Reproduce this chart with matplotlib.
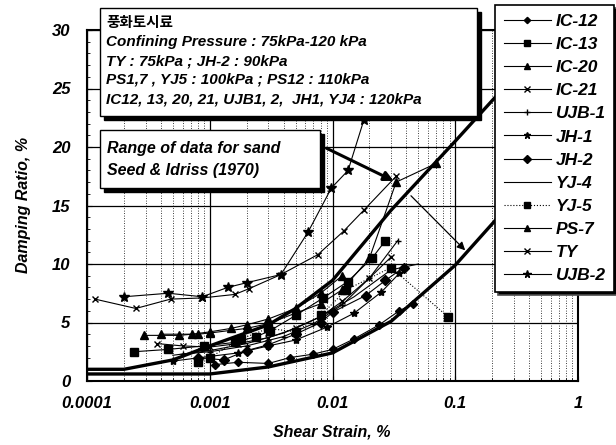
import matplotlib
matplotlib.use("Agg")
import matplotlib.pyplot as plt
from matplotlib.patches import Rectangle
from matplotlib.ticker import FixedLocator, NullFormatter, LogLocator

plt.rcParams['font.family'] = ['Liberation Sans', 'Noto Sans CJK KR']
plt.rcParams['font.weight'] = 'bold'
plt.rcParams['font.style'] = 'italic'

# Seed & Idriss (1970) range for sand
upper_x = [0.0001, 0.0002, 0.0005, 0.001, 0.003, 0.005, 0.01, 0.03, 0.1, 0.3, 1]
upper_y = [1.0, 1.0, 1.8, 3.0, 4.8, 6.2, 8.6, 14.6, 20.5, 26.0, 29.0]
lower_x = [0.0001, 0.001, 0.003, 0.01, 0.03, 0.1, 0.3, 1]
lower_y = [0.6, 0.6, 1.2, 2.4, 5.1, 9.9, 15.5, 21.0]

names = ["IC-12", "IC-13", "IC-20", "IC-21", "UJB-1", "JH-1",
         "JH-2", "YJ-4", "YJ-5", "PS-7", "TY", "UJB-2"]
strain = [
    [0.0011, 0.0017, 0.003, 0.0045, 0.007, 0.01, 0.015, 0.024, 0.035, 0.045],
    [0.00024, 0.00046, 0.0009, 0.0016, 0.0024, 0.0031, 0.005, 0.0084, 0.0133, 0.021, 0.027],
    [0.00029, 0.00056, 0.00072, 0.001, 0.0015, 0.002, 0.003, 0.005, 0.008, 0.012],
    [0.00037, 0.0006, 0.001, 0.0017, 0.003, 0.005, 0.008, 0.012, 0.02, 0.03],
    [0.0006, 0.001, 0.002, 0.004, 0.007, 0.012, 0.02, 0.034],
    [0.0005, 0.001, 0.0017, 0.003, 0.005, 0.009, 0.015, 0.025, 0.035],
    [0.0008, 0.0013, 0.002, 0.003, 0.005, 0.008, 0.0101, 0.0186, 0.027, 0.038],
    [0.0005, 0.001, 0.002, 0.004, 0.008, 0.015, 0.03, 0.05],
    [0.0008, 0.001, 0.0018, 0.003, 0.005, 0.008, 0.013, 0.03, 0.087],
    [0.0004, 0.0008, 0.001, 0.002, 0.003, 0.005, 0.008, 0.012, 0.02, 0.033, 0.07],
    [0.000116, 0.00025, 0.00048, 0.00087, 0.0016, 0.0021, 0.0038, 0.0076, 0.0123, 0.018, 0.033],
    [0.0002, 0.00046, 0.00087, 0.0014, 0.002, 0.0038, 0.0063, 0.0098, 0.0134, 0.018, 0.021],
]
damping = [
    [1.4, 1.6, 1.5, 2.0, 2.3, 2.7, 3.6, 4.8, 6.0, 6.6],
    [2.5, 2.7, 3.0, 3.3, 3.8, 4.3, 5.6, 7.1, 8.5, 10.5, 12.0],
    [3.9, 3.9, 4.0, 4.2, 4.5, 4.8, 5.3, 6.2, 7.5, 9.0],
    [3.2, 3.0, 2.9, 3.2, 3.7, 4.5, 5.5, 6.8, 8.8, 10.6],
    [2.3, 2.5, 3.0, 3.8, 4.9, 6.5, 8.8, 12.0],
    [1.7, 2.1, 2.4, 3.0, 3.5, 4.6, 5.8, 7.6, 9.2],
    [2.0, 1.8, 2.6, 3.1, 4.0, 5.0, 5.9, 7.3, 8.6, 9.7],
    [2.2, 2.6, 3.2, 4.1, 5.5, 7.2, 9.5, 10.0],
    [1.6, 2.0, 3.6, 4.5, 4.2, 5.6, 7.8, 9.7, 5.5],
    [4.0, 4.0, 4.1, 4.5, 4.9, 5.8, 6.6, 7.8, 10.5, 17.0, 18.6],
    [7.0, 6.2, 7.0, 7.1, 7.4, 7.9, 9.1, 10.8, 12.8, 14.6, 17.5],
    [7.2, 7.5, 7.2, 8.0, 8.4, 9.1, 12.7, 16.5, 18.0, 22.3, 27.0],
]
markers = ["D", "s", "^", "x", "+", "*", "D", "", "s", "^", "x", "*"]
sizes = [4, 6, 6, 5, 5, 6, 5, 0, 6, 6, 5, 7]
styles = ["-", "-", "-", "-", "-", "-", "-", "-", ":", "-", "-", "-"]

fig = plt.figure(figsize=(6.16, 4.45), dpi=100)
ax = fig.add_axes([87 / 616, 64 / 445, 491 / 616, 351 / 445])

ax.plot(upper_x, upper_y, color="black", lw=2.4, zorder=3)
ax.plot(lower_x, lower_y, color="black", lw=2.4, zorder=3)

for n, sx, dy, m, s, ls in zip(names, strain, damping, markers, sizes, styles):
    ax.plot(sx, dy, color="black", lw=0.8, ls=ls, marker=m, ms=s,
            mew=1.0, mfc="black", mec="black", label=n, zorder=4)

ax.set_xscale("log")
ax.set_xlim(0.0001, 1)
ax.set_ylim(0, 30)
ax.xaxis.set_major_locator(FixedLocator([0.0001, 0.001, 0.01, 0.1, 1]))
ax.set_xticklabels(["0.0001", "0.001", "0.01", "0.1", "1"])
ax.xaxis.set_minor_locator(LogLocator(base=10, subs=range(2, 10)))
ax.xaxis.set_minor_formatter(NullFormatter())
ax.set_yticks([0, 5, 10, 15, 20, 25, 30])
ax.set_yticks(range(0, 31), minor=True)
ax.grid(which="major", color="black", lw=0.9)
ax.grid(which="minor", axis="x", color="black", lw=0.6, ls=(0, (1, 2)))
ax.tick_params(which="both", direction="in", top=False, right=False)
ax.tick_params(axis="x", pad=11, labelsize=12)
ax.tick_params(axis="y", pad=12, labelsize=12)
for sp in ax.spines.values():
    sp.set_linewidth(1.5)

fig.text(332 / 616, 1 - 432 / 445, "Shear Strain, %", ha="center", va="center",
         fontsize=11.5)
fig.text(24 / 616, 1 - 205 / 445, "Damping Ratio, %", ha="center", va="center",
         rotation=90, fontsize=11.5)


def shadow_box(x0, y0, x1, y1):
    # pixel box (top-left origin) with black drop shadow
    W, H = 616, 445
    fig.add_artist(Rectangle(((x0 + 4) / W, 1 - (y1 + 4) / H), (x1 - x0) / W,
                             (y1 - y0) / H, transform=fig.transFigure,
                             fc="black", ec="black", zorder=6))
    fig.add_artist(Rectangle((x0 / W, 1 - y1 / H), (x1 - x0) / W, (y1 - y0) / H,
                             transform=fig.transFigure, fc="white", ec="black",
                             lw=1.0, zorder=7))


shadow_box(100, 8, 477, 116)
info = ["풍화토시료",
        "Confining Pressure : 75kPa-120 kPa",
        "TY : 75kPa ; JH-2 : 90kPa",
        "PS1,7 , YJ5 : 100kPa ; PS12 : 110kPa",
        "IC12, 13, 20, 21, UJB1, 2,  JH1, YJ4 : 120kPa"]
for i, line in enumerate(info):
    fig.text(106 / 616, 1 - (23 + 19 * i) / 445, line, ha="left", va="center",
             fontsize=11 if i else 10.5, zorder=8)

shadow_box(100, 130, 320, 188)
fig.text(107 / 616, 1 - 148 / 445, "Range of data for sand", ha="left",
         va="center", fontsize=11.5, zorder=8)
fig.text(107 / 616, 1 - 170 / 445, "Seed & Idriss (1970)", ha="left",
         va="center", fontsize=11.5, zorder=8)

ax.annotate("", xy=(0.033, 17.0), xycoords="data",
            xytext=(324, 445 - 147), textcoords="figure pixels",
            arrowprops=dict(arrowstyle="-|>", color="black", lw=2.2,
                            mutation_scale=14), zorder=5)
ax.annotate("", xy=(0.125, 11.0), xycoords="data",
            xytext=(0.042, 16.0), textcoords="data",
            arrowprops=dict(arrowstyle="-|>", color="black", lw=0.9,
                            mutation_scale=12), zorder=5)

leg = ax.legend(loc="upper left", bbox_to_anchor=(495 / 616, 1 - 5 / 445),
                bbox_transform=fig.transFigure, frameon=True, fancybox=False,
                shadow={"fc": "black", "alpha": 1.0}, edgecolor="black",
                framealpha=1, fontsize=12.5, handlelength=2.7, labelspacing=0.46,
                borderpad=0.5, handletextpad=0.3, borderaxespad=0,
                markerscale=0.8)
leg.get_frame().set_linewidth(1.2)
leg.set_zorder(10)

fig.savefig("out.png", dpi=100)
